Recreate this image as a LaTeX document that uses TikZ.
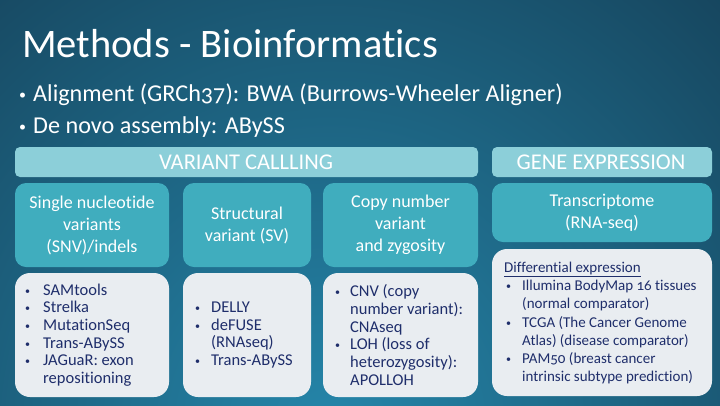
\documentclass[tikz,border=0pt]{standalone}
\usepackage{fontspec}
\setmainfont{Carlito}[Numbers=OldStyle,Ligatures=NoCommon]
\usepackage{xcolor}
\definecolor{bgdark}{HTML}{143C53}
\definecolor{bglight}{HTML}{2586AA}
\definecolor{barfill}{HTML}{8CCFD9}
\definecolor{tealfill}{HTML}{40ADBE}
\definecolor{listfill}{HTML}{E9EDF1}
\definecolor{listtext}{HTML}{1F2E6B}
\begin{document}
\begin{tikzpicture}[x=1pt,y=-1pt,
  headbar/.style={fill=barfill,rounded corners=5pt,draw=none},
  catbox/.style={fill=tealfill,rounded corners=11pt,draw=none},
  listbox/.style={fill=listfill,rounded corners=15pt,draw=none},
  headtext/.style={text=white,font=\fontsize{22.5}{26}\selectfont,inner sep=0pt},
  cattext/.style={text=white,font=\fontsize{18}{22}\selectfont,align=center,inner sep=0pt},
  listtxt/.style={text=listtext,font=\fontsize{16.5}{17.7}\selectfont,align=left,inner sep=0pt,anchor=west},
  smalllist/.style={listtxt,font=\fontsize{15}{18.2}\selectfont},
  toptext/.style={text=white,anchor=base west,inner sep=0pt}]
\newcommand{\bul}[1][16pt]{\makebox[#1][l]{\hspace*{1pt}\raisebox{1pt}{\fontsize{10}{10}\selectfont•}}}
\newcommand{\cont}[1][16pt]{\hspace*{#1}}
\newcommand{\topbul}{\makebox[14pt][l]{\raisebox{2pt}{\fontsize{14}{14}\selectfont•}}}
% background
\useasboundingbox (0,0) rectangle (720,405);
\shade[inner color=bglight,outer color=bgdark] (-330,-260) rectangle (990,1120);
% title and bullets
\node[toptext,font=\fontsize{40.5}{44}\selectfont] (title) at (22,57) {Methods - Bioinformatics};
\node[toptext,font=\fontsize{24.2}{28}\selectfont] (b1) at (19,101) {\topbul Alignment (GRCh37): BWA (Burrows-Wheeler Aligner)};
\node[toptext,font=\fontsize{24.2}{28}\selectfont] (b2) at (19,133) {\topbul De novo assembly: ABySS};
% header bars
\path[headbar] (15,147) rectangle (478,177);
\node[headtext] (vc) at (246,162) {VARIANT CALLLING};
\path[headbar] (492,147) rectangle (712,177);
\node[headtext] (ge) at (601,162) {GENE EXPRESSION};
% category boxes
\path[catbox] (15,183) rectangle (169,267);
\node[cattext] (snv) at (92,225) {Single nucleotide\\variants\\(SNV)/indels};
\path[catbox] (183,183) rectangle (311,267);
\node[cattext] (sv) at (247,225) {Structural\\variant (SV)};
\path[catbox] (323,183) rectangle (478,267);
\node[cattext] (cnv) at (400.5,225) {Copy number\\variant\\and zygosity};
\path[catbox] (492,183) rectangle (712,242);
\node[cattext] (rna) at (602,212.5) {Transcriptome\\(RNA-seq)};
% tool lists
\path[listbox] (15,273) rectangle (169,397);
\node[listtxt] (l1) at (24,335) {\bul[19pt]SAMtools\\\bul[19pt]Strelka\\\bul[19pt]MutationSeq\\\bul[19pt]Trans-ABySS\\\bul[19pt]JAGuaR: exon\\\cont[19pt]repositioning};
\path[listbox] (183,273) rectangle (311,397);
\node[listtxt] (l2) at (194,335) {\bul[17pt]DELLY\\\bul[17pt]deFUSE\\\cont[17pt](RNAseq)\\\bul[17pt]Trans-ABySS};
\path[listbox] (323,273) rectangle (478,397);
\node[listtxt] (l3) at (334,335) {\bul CNV (copy\\\cont number variant):\\\cont CNAseq\\\bul LOH (loss of\\\cont heterozygosity):\\\cont APOLLOH};
\path[listbox] (492,249) rectangle (712,396);
\node[smalllist] (l4) at (504,323) {\underline{Differential expression}\\\hspace*{1pt}\bul[17pt]Illumina BodyMap 16 tissues\\\hspace*{1pt}\cont[17pt](normal comparator)\\\hspace*{1pt}\bul[17pt]TCGA (The Cancer Genome\\\hspace*{1pt}\cont[17pt]Atlas) (disease comparator)\\\hspace*{1pt}\bul[17pt]PAM50 (breast cancer\\\hspace*{1pt}\cont[17pt]intrinsic subtype prediction)};
\end{tikzpicture}
\end{document}
